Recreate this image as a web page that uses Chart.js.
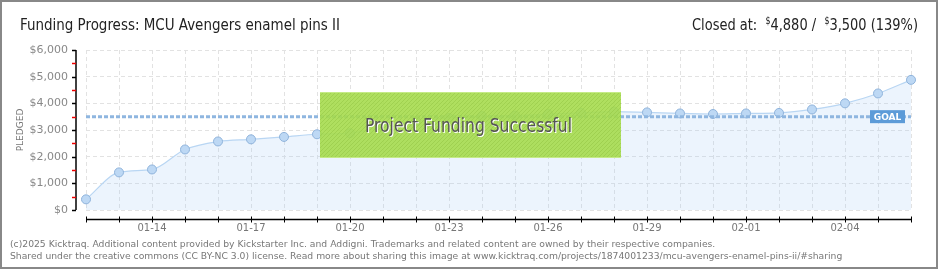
<!DOCTYPE html>
<html>
<head>
<meta charset="utf-8">
<title>Funding Progress</title>
<script src="https://cdn.jsdelivr.net/npm/chart.js@4.4.1/dist/chart.umd.min.js"></script>
<style>
	body { margin: 0; background: #fff; }
	canvas { display: block; }
</style>
</head>
<body>
<canvas id="chart" width="940" height="270"></canvas>
<script>
// data
var days = ['01-12', '01-13', '01-14', '01-15', '01-16', '01-17', '01-18', '01-19', '01-20',
	'01-21', '01-22', '01-23', '01-24', '01-25', '01-26', '01-27', '01-28', '01-29',
	'01-30', '01-31', '02-01', '02-02', '02-03', '02-04', '02-05', '02-06'];
var pledged = [400, 1410, 1520, 2270, 2570, 2650, 2740, 2840, 2880,
	3120, 3330, 3450, 3520, 3540, 3600, 3640, 3690, 3660,
	3620, 3600, 3620, 3640, 3770, 4000, 4370, 4880];
var goal = [3500, 3500, 3500, 3500, 3500, 3500, 3500, 3500, 3500,
	3500, 3500, 3500, 3500, 3500, 3500, 3500, 3500, 3500,
	3500, 3500, 3500, 3500, 3500, 3500, 3500, 3500];
var yTicks = [0, 1000, 2000, 3000, 4000, 5000, 6000];
var titleText = 'Funding Progress: MCU Avengers enamel pins II';
var closedAt = '4,880';
var goalText = '3,500';
var percentText = '(139%)';
var footerLines = [
	'(c)2025 Kicktraq. Additional content provided by Kickstarter Inc. and Addigni. Trademarks and related content are owned by their respective companies.',
	'Shared under the creative commons (CC BY-NC 3.0) license. Read more about sharing this image at www.kicktraq.com/projects/1874001233/mcu-avengers-enamel-pins-ii/#sharing'
];

var headFont = '"Liberation Sans Narrow", "DejaVu Sans Condensed", sans-serif';

// size a font so the text spans a given width
function fitFont(ctx, text, family, width) {
	ctx.font = '20px ' + family;
	var size = 20 * width / ctx.measureText(text).width;
	return size.toFixed(2) + 'px ' + family;
}

// draw a list of [font, text, dy] runs squeezed into a given width
function drawSqueezed(ctx, runs, x, y, width) {
	var total = 0;
	runs.forEach(function (r) {
		ctx.font = r[0];
		total += ctx.measureText(r[1]).width;
	});
	ctx.save();
	ctx.translate(x, y);
	ctx.scale(width / total, 1);
	var cx = 0;
	runs.forEach(function (r) {
		ctx.font = r[0];
		ctx.fillText(r[1], cx, r[2] || 0);
		cx += ctx.measureText(r[1]).width;
	});
	ctx.restore();
}

function hatchPattern(ctx) {
	var p = document.createElement('canvas');
	p.width = 4;
	p.height = 4;
	var pc = p.getContext('2d');
	pc.fillStyle = 'rgba(166, 220, 78, 0.9)';
	pc.fillRect(0, 0, 4, 4);
	pc.strokeStyle = 'rgba(150, 200, 70, 0.6)';
	pc.lineWidth = 1;
	pc.beginPath();
	pc.moveTo(0, 4);
	pc.lineTo(4, 0);
	pc.stroke();
	return ctx.createPattern(p, 'repeat');
}

var decorations = {
	id: 'decorations',
	afterDraw: function (chart) {
		var ctx = chart.ctx;
		var x = chart.scales.x;
		var y = chart.scales.y;
		ctx.save();

		// y axis line with major / minor ticks
		ctx.strokeStyle = '#000';
		ctx.lineWidth = 1.5;
		ctx.beginPath();
		ctx.moveTo(76, y.getPixelForValue(6000));
		ctx.lineTo(76, y.getPixelForValue(0));
		ctx.stroke();
		for (var v = 0; v <= 6000; v += 500) {
			var py = Math.round(y.getPixelForValue(v)) + 0.5;
			ctx.strokeStyle = v % 1000 === 0 ? '#000' : '#e00';
			ctx.lineWidth = 1.5;
			ctx.beginPath();
			ctx.moveTo(72, py);
			ctx.lineTo(76, py);
			ctx.stroke();
		}

		// x axis line below the plot
		ctx.strokeStyle = '#000';
		ctx.lineWidth = 1.5;
		ctx.beginPath();
		ctx.moveTo(x.getPixelForValue(0), 219.5);
		ctx.lineTo(x.getPixelForValue(days.length - 1), 219.5);
		ctx.stroke();
		ctx.lineWidth = 1;
		for (var i = 0; i < days.length; i++) {
			var px = Math.round(x.getPixelForValue(i)) + 0.5;
			ctx.beginPath();
			ctx.moveTo(px, 216.5);
			ctx.lineTo(px, 222.5);
			ctx.stroke();
		}

		// success banner
		ctx.fillStyle = hatchPattern(ctx);
		ctx.fillRect(320, 92, 301, 66);
		ctx.fillStyle = 'rgba(200, 236, 140, 0.9)';
		ctx.fillRect(320, 92, 301, 1);
		ctx.fillRect(320, 157, 301, 1);
		ctx.textAlign = 'left';
		ctx.textBaseline = 'alphabetic';
		var banner = [['19px ' + headFont, 'Project Funding Successful', 0]];
		ctx.fillStyle = '#fff';
		drawSqueezed(ctx, banner, 366, 133, 207);
		ctx.fillStyle = '#555';
		drawSqueezed(ctx, banner, 365, 132, 207);

		// goal tag
		var gy = y.getPixelForValue(goal[goal.length - 1]);
		ctx.fillStyle = '#5c9bd8';
		ctx.fillRect(870, gy - 6.5, 35, 13);
		ctx.fillStyle = '#fff';
		ctx.textAlign = 'center';
		ctx.textBaseline = 'middle';
		ctx.font = 'bold 9px "DejaVu Sans", sans-serif';
		ctx.fillText('GOAL', 887.5, gy + 0.5);

		// title
		ctx.textAlign = 'left';
		ctx.textBaseline = 'alphabetic';
		ctx.fillStyle = '#222';
		drawSqueezed(ctx, [['16.5px ' + headFont, titleText, 0]], 20, 30, 320);

		// closed at, with small raised dollar signs
		var big = '16.5px ' + headFont;
		var small = '10px ' + headFont;
		drawSqueezed(ctx, [
			[big, 'Closed at:  ', 0], [small, '$', -6], [big, closedAt + ' /  ', 0],
			[small, '$', -6], [big, goalText + ' ' + percentText, 0]
		], 692, 30, 226);

		// footer
		ctx.fillStyle = '#777';
		ctx.font = fitFont(ctx, footerLines[0], '"DejaVu Sans", sans-serif', 706);
		ctx.fillText(footerLines[0], 10, 247);
		ctx.fillText(footerLines[1], 10, 259);

		// frame
		ctx.strokeStyle = '#888';
		ctx.lineWidth = 2;
		ctx.strokeRect(1, 1, 936, 267);
		ctx.restore();
	}
};

new Chart(document.getElementById('chart').getContext('2d'), {
	type: 'line',
	data: {
		labels: days,
		datasets: [
			{
				label: 'Pledged',
				data: pledged,
				borderColor: '#b9d6f3',
				borderWidth: 1.2,
				backgroundColor: 'rgba(170, 205, 245, 0.22)',
				fill: 'origin',
				cubicInterpolationMode: 'monotone',
				pointRadius: 4.5,
				pointBorderWidth: 1,
				pointBackgroundColor: '#bdd8f4',
				pointBorderColor: '#8fb3db',
				order: 2
			},
			{
				label: 'Goal',
				data: goal,
				borderColor: '#8fb6e0',
				borderWidth: 3,
				borderDash: [4, 2],
				pointRadius: 0,
				fill: false,
				order: 1
			}
		]
	},
	options: {
		responsive: false,
		animation: false,
		layout: { padding: { top: 50, right: 29, left: 11, bottom: 35 } },
		plugins: {
			legend: { display: false },
			tooltip: { enabled: false }
		},
		scales: {
			x: {
				offset: false,
				grid: { color: '#e2e2e2', drawTicks: false },
				border: { display: false, dash: [4, 3] },
				ticks: {
					autoSkip: false,
					maxRotation: 0,
					padding: 12,
					color: '#777',
					font: { family: '"DejaVu Sans", sans-serif', size: 10 },
					callback: function (value, index) {
						return index % 3 === 2 ? days[index] : '';
					}
				},
				afterFit: function (scale) { scale.height = 25; }
			},
			y: {
				min: yTicks[0],
				max: yTicks[yTicks.length - 1],
				afterBuildTicks: function (scale) {
					scale.ticks = yTicks.map(function (v) { return { value: v }; });
				},
				grid: { color: '#e2e2e2', drawTicks: false },
				border: { display: false, dash: [4, 3] },
				ticks: {
					padding: 18,
					color: '#888',
					font: { family: '"DejaVu Sans", sans-serif', size: 11 },
					callback: function (value) {
						return '$' + value.toLocaleString('en-US');
					}
				},
				title: {
					display: true,
					text: 'PLEDGED',
					color: '#777',
					font: { family: '"DejaVu Sans", sans-serif', size: 9 },
					padding: { top: 4, bottom: 4 }
				},
				afterFit: function (scale) { scale.width = 75; }
			}
		}
	},
	plugins: [decorations]
});
</script>
</body>
</html>
